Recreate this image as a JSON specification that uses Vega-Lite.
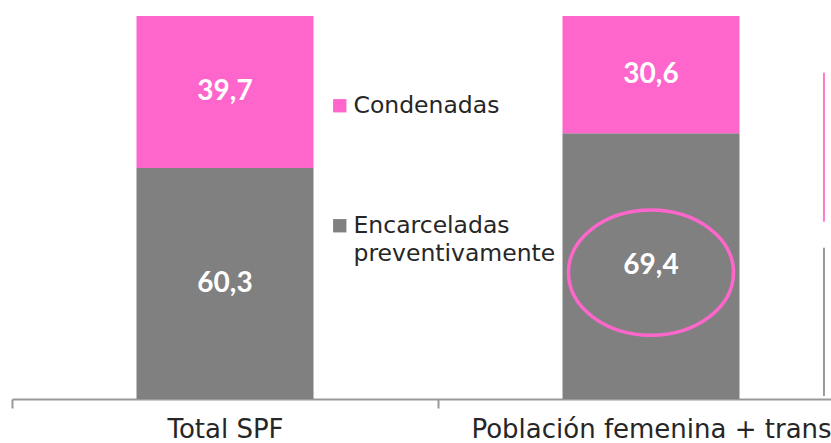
{
  "$schema": "https://vega.github.io/schema/vega-lite/v6.json",
  "width": 819,
  "height": 383,
  "autosize": {"type": "none"},
  "padding": {"left": 12, "top": 16, "right": 0, "bottom": 44},
  "background": "white",
  "config": {
    "view": {"stroke": null},
    "font": "DejaVu Sans",
    "locale": {"number": {"decimal": ",", "thousands": ".", "grouping": [3], "currency": ["", " €"]}}
  },
  "data": {"values": [
    {"grupo": "Total SPF", "situacion": "Encarceladas preventivamente", "valor": 60.3, "orden": 1},
    {"grupo": "Total SPF", "situacion": "Condenadas", "valor": 39.7, "orden": 2},
    {"grupo": "Población femenina + trans", "situacion": "Encarceladas preventivamente", "valor": 69.4, "orden": 1},
    {"grupo": "Población femenina + trans", "situacion": "Condenadas", "valor": 30.6, "orden": 2}
  ]},
  "layer": [
    {
      "mark": {"type": "bar", "width": {"band": 0.4155}},
      "encoding": {
        "x": {
          "field": "grupo", "type": "nominal", "sort": ["Total SPF", "Población femenina + trans"],
          "scale": {"domain": ["Total SPF", "Población femenina + trans"], "range": [0, 852], "paddingInner": 0, "paddingOuter": 0},
          "axis": {"title": null, "labelAngle": 0, "labelFont": "DejaVu Sans", "labelFontSize": 26, "labelColor": "#262626", "labelPadding": 8, "domainColor": "#999999", "domainWidth": 2, "tickColor": "#999999", "tickWidth": 2, "tickSize": 9, "tickBand": "extent", "labelLimit": 0, "grid": false}
        },
        "y": {"field": "valor", "type": "quantitative", "stack": "zero", "scale": {"domain": [0, 100]}, "axis": null},
        "order": {"field": "orden"},
        "color": {
          "field": "situacion", "type": "nominal",
          "scale": {"domain": ["Condenadas", "Encarceladas preventivamente"], "range": ["#FF66CC", "#808080"]},
          "legend": {
            "orient": "none", "legendX": 316, "legendY": 78, "title": null,
            "symbolType": "square", "symbolSize": 178, "symbolStrokeWidth": 0,
            "labelFont": "DejaVu Sans", "labelFontSize": 23.5, "labelColor": "#262626", "labelOffset": 2, "labelLimit": 0,
            "rowPadding": 95,
            "labelExpr": "datum.label == 'Encarceladas preventivamente' ? ['Encarceladas', 'preventivamente'] : datum.label",
            "encode": {"labels": {"update": {"lineHeight": {"value": 28}}}}
          }
        }
      }
    },
    {
      "mark": {"type": "text", "font": "Lato", "fontWeight": "bold", "fontSize": 28, "color": "white", "baseline": "middle", "align": "center"},
      "encoding": {
        "x": {"field": "grupo", "type": "nominal", "sort": ["Total SPF", "Población femenina + trans"]},
        "y": {"field": "valor", "type": "quantitative", "stack": "zero", "bandPosition": 0.5},
        "order": {"field": "orden"},
        "detail": {"field": "situacion"},
        "text": {"field": "valor", "type": "quantitative", "format": ".1f"}
      }
    },
    {
      "data": {"values": [{"grupo": "Población femenina + trans", "valor": 33}]},
      "mark": {"type": "point", "shape": "M -1 0 A 1 0.76 0 1 0 1 0 A 1 0.76 0 1 0 -1 0 Z", "size": 27225, "filled": false, "stroke": "#FF66CC", "strokeWidth": 3.5, "opacity": 1},
      "encoding": {
        "x": {"field": "grupo", "type": "nominal", "sort": ["Total SPF", "Población femenina + trans"]},
        "y": {"field": "valor", "type": "quantitative"}
      }
    },
    {
      "data": {"values": [
        {"grupo": "Población femenina + trans", "desde": 85.2, "hasta": 46.3, "cuadro": "rosa"},
        {"grupo": "Población femenina + trans", "desde": 39.5, "hasta": 0.8, "cuadro": "gris"}
      ]},
      "mark": {"type": "rule", "strokeWidth": 2},
      "encoding": {
        "x": {"field": "grupo", "type": "nominal", "sort": ["Total SPF", "Población femenina + trans"], "bandPosition": 0.906},
        "y": {"field": "desde", "type": "quantitative"},
        "y2": {"field": "hasta"},
        "stroke": {"field": "cuadro", "type": "nominal", "scale": {"domain": ["rosa", "gris"], "range": ["#FF77D0", "#999999"]}, "legend": null}
      }
    }
  ]
}
